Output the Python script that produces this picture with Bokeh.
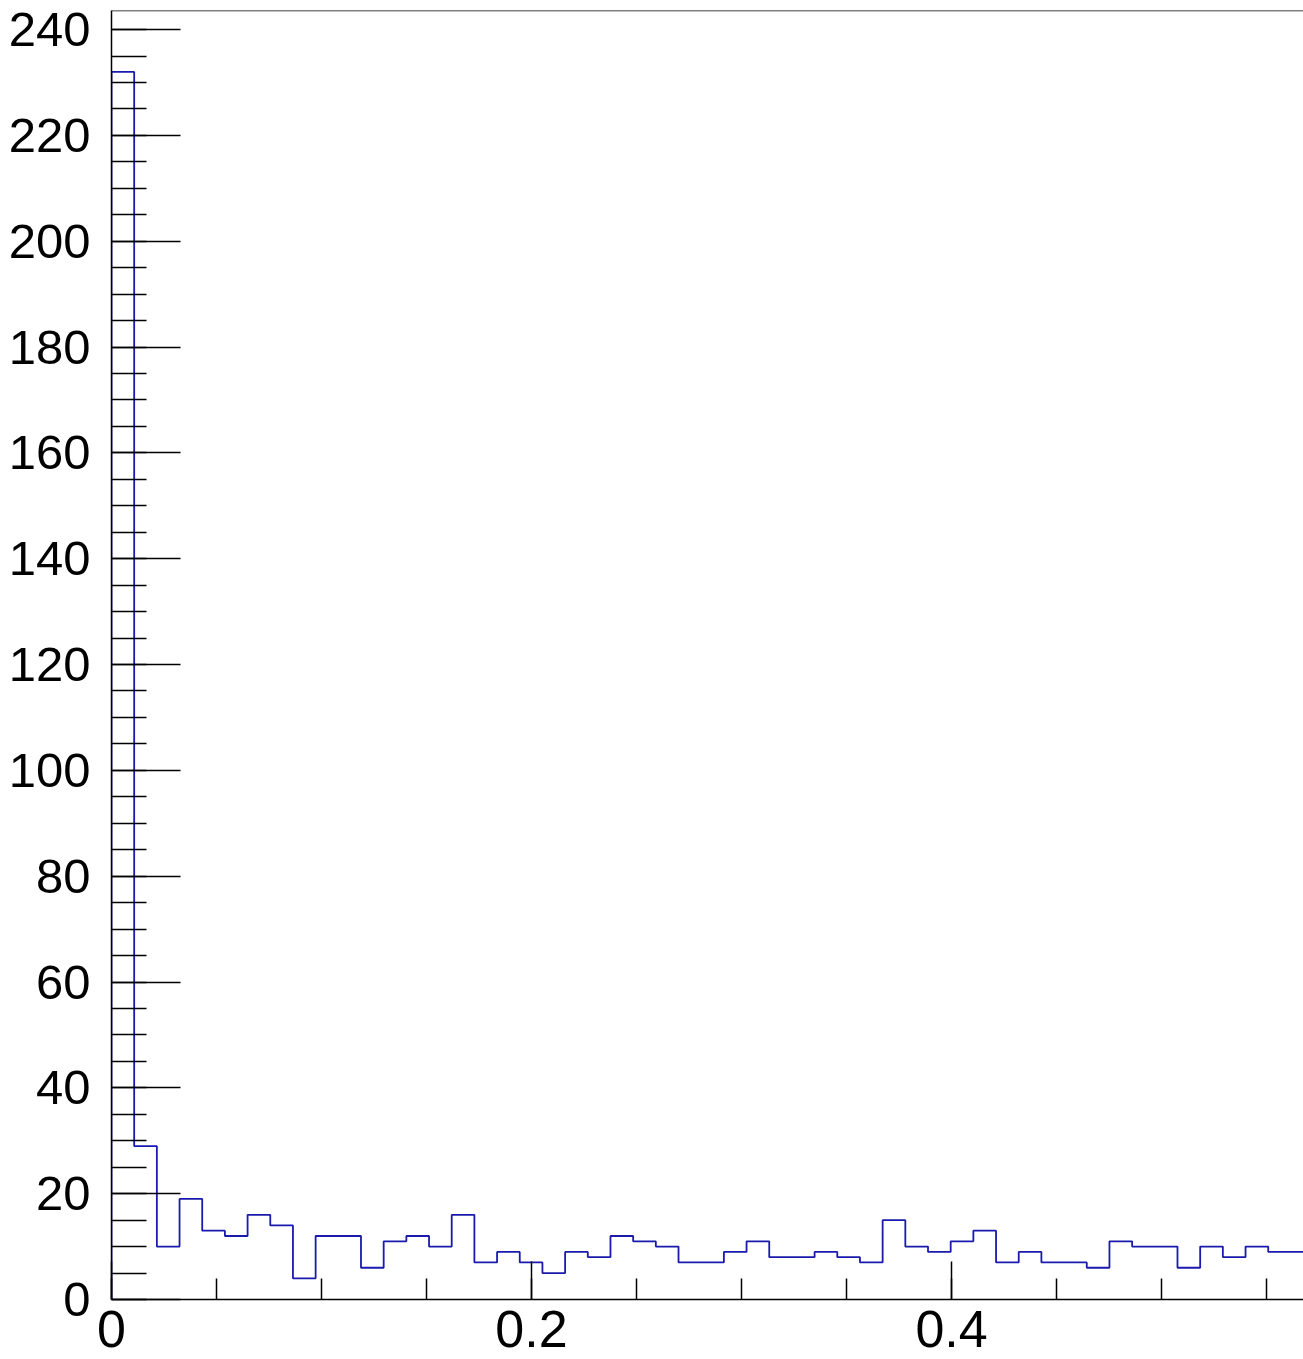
import numpy as np
from bokeh.plotting import figure
from bokeh.models import SingleIntervalTicker, CustomJSTickFormatter, Span, Range1d
from bokeh.embed import file_html
from bokeh.resources import INLINE

# Histogram data (bin width and counts)
bin_width = 0.0108
counts = [232, 29, 10, 19, 13, 12, 16, 14, 4, 12,
          12, 6, 11, 12, 10, 16, 7, 9, 7, 5,
          9, 8, 12, 11, 10, 7, 7, 9, 11, 8,
          8, 9, 8, 7, 15, 10, 9, 11, 13, 7,
          9, 7, 7, 6, 11, 10, 10, 6, 10, 8,
          10, 9, 9]
x_view = [0.0, 0.5676]
y_view = [0.0, 243.6]

edges = np.arange(len(counts) + 1) * bin_width
xs = [edges[0]]
ys = [0.0]
for i, c in enumerate(counts):
    xs += [edges[i], edges[i + 1]]
    ys += [c, c]

FONT = "Liberation Sans"

p = figure(width=1303, height=1359, output_backend="svg", toolbar_location=None,
           x_range=Range1d(*x_view), y_range=Range1d(*y_view),
           min_border_left=111, min_border_right=0, min_border_top=10, min_border_bottom=60)
p.outline_line_color = None
p.xgrid.visible = False
p.ygrid.visible = False
p.background_fill_color = "white"
p.border_fill_color = "white"

p.line(xs, ys, line_color="#1a1aad", line_width=1.8)

p.add_layout(Span(location=y_view[1], dimension="width", line_color="black", line_width=1.5))

xa = p.xaxis[0]
xa.ticker = SingleIntervalTicker(interval=0.2, num_minor_ticks=4)
xa.formatter = CustomJSTickFormatter(code="return Number(tick.toFixed(3)).toString();")
xa.major_tick_in = 38
xa.major_tick_out = 0
xa.minor_tick_in = 21
xa.minor_tick_out = 0
xa.major_label_text_font = FONT
xa.major_label_text_font_size = "52px"
xa.major_label_text_color = "black"
xa.major_label_standoff = 11
xa.axis_line_width = 1.5
xa.major_tick_line_width = 1.5
xa.minor_tick_line_width = 1.5
xa.axis_line_color = "black"

ya = p.yaxis[0]
ya.ticker = SingleIntervalTicker(interval=20, num_minor_ticks=4)
ya.major_tick_in = 69
ya.major_tick_out = 0
ya.minor_tick_in = 35
ya.minor_tick_out = 0
ya.major_label_text_font = FONT
ya.major_label_text_font_size = "49px"
ya.major_label_text_color = "black"
ya.major_label_standoff = 21
ya.axis_line_width = 1.5
ya.major_tick_line_width = 1.5
ya.minor_tick_line_width = 1.5
ya.axis_line_color = "black"

open("out.html", "w").write(file_html(p, INLINE))
